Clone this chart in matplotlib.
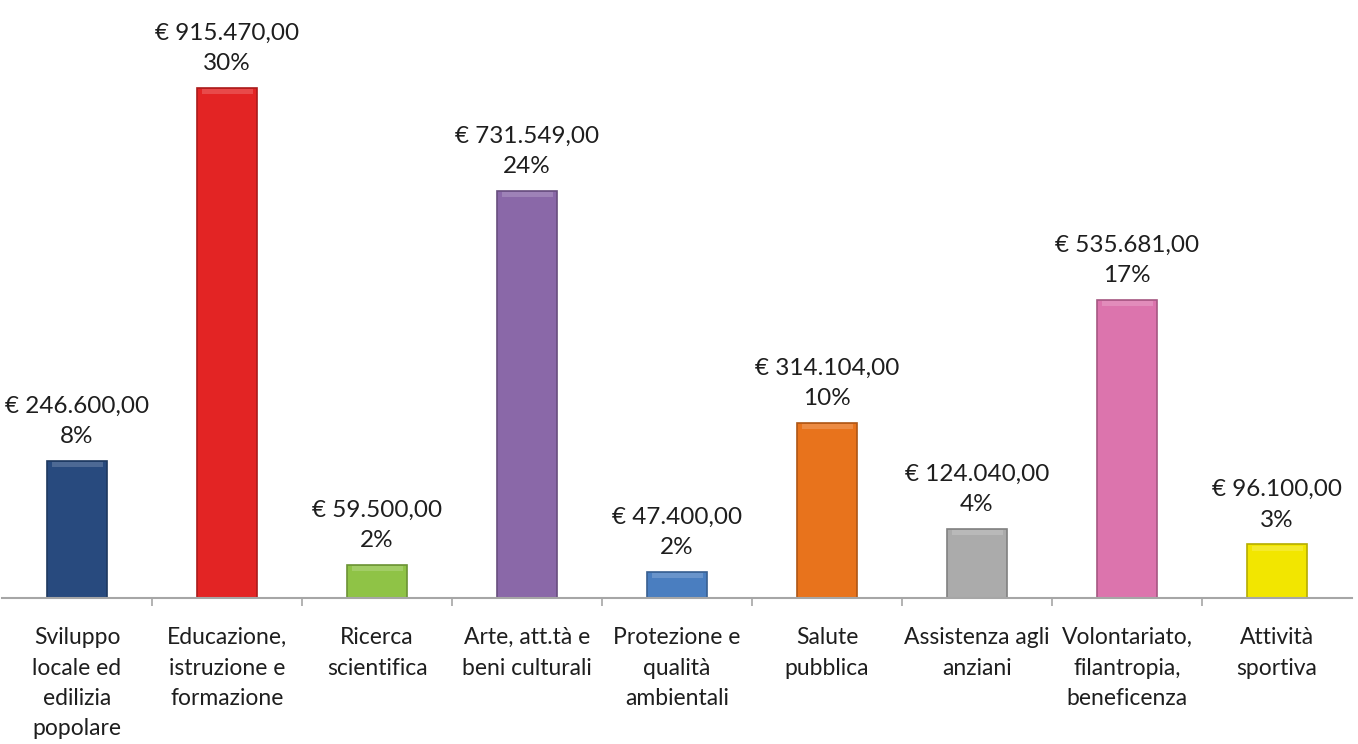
import matplotlib
matplotlib.use("Agg")
import matplotlib.pyplot as plt
from matplotlib.colors import to_rgb

categorie = [
    "Sviluppo\nlocale ed\nedilizia\npopolare",
    "Educazione,\nistruzione e\nformazione",
    "Ricerca\nscientifica",
    "Arte, att.tà e\nbeni culturali",
    "Protezione e\nqualità\nambientali",
    "Salute\npubblica",
    "Assistenza agli\nanziani",
    "Volontariato,\nfilantropia,\nbeneficenza",
    "Attività\nsportiva",
]
importi = [246600.00, 915470.00, 59500.00, 731549.00, 47400.00,
           314104.00, 124040.00, 535681.00, 96100.00]
percentuali = [8, 30, 2, 24, 2, 10, 4, 17, 3]
colori = ["#284a7e", "#e32424", "#8fc346", "#8a68a8", "#4a7ec0",
          "#e8731c", "#ababab", "#dc74ad", "#f2e600"]


def euro(v):
    s = f"{v:,.2f}"
    s = s.replace(",", "X").replace(".", ",").replace("X", ".")
    return "€ " + s


def scuro(c, f=0.75):
    r, g, b = to_rgb(c)
    return (r * f, g * f, b * f)


def chiaro(c, f=0.35):
    r, g, b = to_rgb(c)
    return (r + (1 - r) * f, g + (1 - g) * f, b + (1 - b) * f)


plt.rcParams['font.family'] = ['Lato', 'DejaVu Sans']

fig = plt.figure(figsize=(13.58, 7.44), dpi=100)
ax = fig.add_axes([2 / 1358, (744 - 598) / 744, 1350 / 1358, 598 / 744])

x = list(range(len(categorie)))
ax.bar(x, importi, width=0.4, color=colori,
       edgecolor=[scuro(c) for c in colori], linewidth=1.2, zorder=2)
# leggero riflesso in alto per l'effetto smussato
ax.bar(x, [9000] * len(x), bottom=[v - 11000 for v in importi], width=0.34,
       color=[chiaro(c) for c in colori], linewidth=0, zorder=3, alpha=0.5)

for xi, v, p in zip(x, importi, percentuali):
    ax.annotate(f"{euro(v)}\n{p}%", (xi, v), xytext=(0, 10),
                textcoords="offset points", ha="center", va="bottom",
                fontsize=17.5, color="#1e1e1e", linespacing=1.55)

ax.set_xlim(-0.5, len(categorie) - 0.5)
ax.set_ylim(0, 1.074e6)

for s in ["top", "right", "left"]:
    ax.spines[s].set_visible(False)
ax.spines["bottom"].set_color("#a6a6a6")
ax.spines["bottom"].set_linewidth(1.5)
ax.set_yticks([])

ax.set_xticks(x)
ax.set_xticklabels(categorie, fontsize=16.5, color="#1e1e1e", linespacing=1.55)
ax.tick_params(axis="x", which="major", length=0, pad=21)
ax.set_xticks([i + 0.5 for i in range(len(categorie) - 1)], minor=True)
ax.tick_params(axis="x", which="minor", length=6, width=1.2, color="#a6a6a6")

fig.savefig("out.png", dpi=100)
